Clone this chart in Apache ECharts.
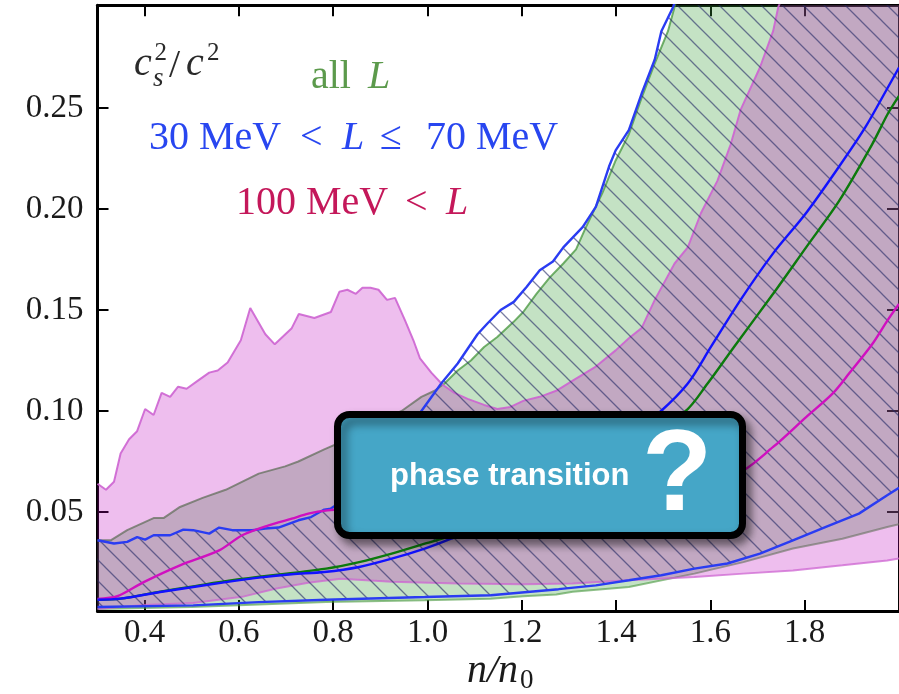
<!DOCTYPE html>
<html>
<head>
<meta charset="utf-8">
<script src="https://cdn.jsdelivr.net/npm/echarts@6.0.0/dist/echarts.min.js"></script>
<style>
  html, body { margin: 0; padding: 0; background: #fff; }
  #chart { width: 899px; height: 694px; }
</style>
</head>
<body>
<div id="chart"></div>
<script>
const xTicks = [0.4, 0.6, 0.8, 1.0, 1.2, 1.4, 1.6, 1.8];
const yTicks = [0.05, 0.10, 0.15, 0.20, 0.25];

// band edges as [n/n0, cs^2/c^2]
// 100 MeV < L
const pinkUpper = [
  [0.300, 0.064], [0.318, 0.061], [0.335, 0.065], [0.349, 0.079], [0.367, 0.086], [0.384, 0.090],
  [0.401, 0.101], [0.419, 0.098], [0.436, 0.109], [0.454, 0.107], [0.471, 0.112], [0.489, 0.111],
  [0.513, 0.115], [0.537, 0.119], [0.555, 0.120], [0.576, 0.124], [0.604, 0.135], [0.624, 0.151],
  [0.656, 0.138], [0.676, 0.133], [0.712, 0.141], [0.727, 0.148], [0.760, 0.146], [0.795, 0.149],
  [0.813, 0.159], [0.830, 0.160], [0.848, 0.158], [0.862, 0.161], [0.879, 0.161], [0.896, 0.160],
  [0.914, 0.155], [0.931, 0.156], [0.952, 0.145], [0.970, 0.135], [0.984, 0.126], [1.008, 0.119],
  [1.032, 0.113], [1.057, 0.109], [1.085, 0.106], [1.120, 0.103], [1.148, 0.101], [1.176, 0.102],
  [1.203, 0.105], [1.238, 0.107], [1.273, 0.110], [1.308, 0.115], [1.357, 0.122], [1.399, 0.130],
  [1.427, 0.136], [1.454, 0.141], [1.482, 0.155], [1.524, 0.173], [1.552, 0.181], [1.580, 0.198],
  [1.615, 0.214], [1.643, 0.232], [1.664, 0.249], [1.705, 0.270], [1.733, 0.288], [1.744, 0.300],
  [1.780, 0.320], [2.000, 0.450]
];
const pinkLower = [
  [0.300, 0.002], [0.398, 0.004], [0.503, 0.005], [0.607, 0.008], [0.677, 0.012], [0.747, 0.015],
  [0.816, 0.017], [0.924, 0.0155], [1.064, 0.0146], [1.203, 0.0142], [1.308, 0.0146], [1.427, 0.0162],
  [1.566, 0.0178], [1.670, 0.0195], [1.775, 0.0211], [1.880, 0.0236], [1.975, 0.026], [2.000, 0.027]
];
// all L
const greenUpper = [
  [0.300, 0.036], [0.328, 0.036], [0.363, 0.041], [0.419, 0.047], [0.440, 0.047], [0.475, 0.0525],
  [0.523, 0.057], [0.572, 0.061], [0.642, 0.069], [0.698, 0.0726], [0.726, 0.075], [0.781, 0.081],
  [0.850, 0.088], [0.900, 0.095], [0.945, 0.100], [0.987, 0.107], [1.015, 0.110], [1.036, 0.1136],
  [1.064, 0.120], [1.092, 0.125], [1.120, 0.1317], [1.148, 0.1366], [1.182, 0.144], [1.203, 0.149],
  [1.231, 0.158], [1.259, 0.166], [1.288, 0.173], [1.315, 0.180], [1.336, 0.191], [1.371, 0.208],
  [1.399, 0.224], [1.427, 0.237], [1.454, 0.255], [1.482, 0.272], [1.510, 0.288], [1.524, 0.300],
  [1.550, 0.320], [2.000, 0.600]
];
const greenLower = [
  [0.300, 0.002], [0.500, 0.003], [0.785, 0.0054], [0.994, 0.0063], [1.134, 0.0071], [1.203, 0.0083],
  [1.273, 0.0092], [1.308, 0.0105], [1.427, 0.0129], [1.566, 0.0195], [1.670, 0.0252], [1.775, 0.0319],
  [1.880, 0.0368], [1.975, 0.0426], [2.000, 0.044]
];
// 30 MeV < L <= 70 MeV
const blueUpper = [
  [0.300, 0.036], [0.335, 0.0344], [0.363, 0.0352], [0.384, 0.0376], [0.401, 0.0363], [0.419, 0.0385],
  [0.454, 0.0385], [0.482, 0.0413], [0.503, 0.041], [0.537, 0.0393], [0.558, 0.0423], [0.586, 0.041],
  [0.628, 0.041], [0.656, 0.0418], [0.684, 0.0423], [0.726, 0.0459], [0.753, 0.0475], [0.781, 0.0512],
  [0.795, 0.0517], [0.850, 0.060], [0.900, 0.072], [0.950, 0.088], [0.987, 0.100], [1.029, 0.1136],
  [1.064, 0.1235], [1.106, 0.138], [1.127, 0.1433], [1.155, 0.150], [1.183, 0.154], [1.210, 0.1614],
  [1.238, 0.1697], [1.266, 0.174], [1.288, 0.181], [1.329, 0.191], [1.357, 0.201], [1.385, 0.221],
  [1.399, 0.229], [1.427, 0.239], [1.454, 0.257], [1.482, 0.274], [1.496, 0.288], [1.521, 0.300],
  [1.550, 0.320], [2.000, 0.600]
];
const blueLower = [
  [0.300, 0.003], [0.503, 0.0038], [0.642, 0.0054], [0.785, 0.0066], [0.994, 0.0079], [1.134, 0.0088],
  [1.278, 0.0118], [1.357, 0.0137], [1.427, 0.0162], [1.496, 0.0187], [1.566, 0.022], [1.636, 0.0245],
  [1.705, 0.0294], [1.775, 0.036], [1.845, 0.0426], [1.915, 0.0492], [1.975, 0.0583], [2.000, 0.062]
];

// central curves
const pinkMid = [
  [0.300, 0.007], [0.342, 0.0083], [0.398, 0.0153], [0.475, 0.0236], [0.558, 0.031], [0.607, 0.0385],
  [0.663, 0.0434], [0.712, 0.0467], [0.747, 0.0492], [0.788, 0.0508], [0.900, 0.053], [1.000, 0.055],
  [1.200, 0.058], [1.400, 0.062], [1.550, 0.065], [1.657, 0.069], [1.733, 0.0822], [1.803, 0.097],
  [1.859, 0.1086], [1.894, 0.1185], [1.943, 0.133], [1.976, 0.145], [2.000, 0.153]
];
const greenMid = [
  [0.300, 0.0066], [0.349, 0.0071], [0.433, 0.0106], [0.503, 0.0132], [0.586, 0.0162], [0.785, 0.022],
  [0.855, 0.0252], [0.924, 0.0294], [0.994, 0.0343], [1.064, 0.0393], [1.150, 0.048], [1.250, 0.060],
  [1.350, 0.074], [1.450, 0.088], [1.545, 0.0995], [1.594, 0.1136], [1.650, 0.1317], [1.733, 0.158],
  [1.803, 0.181], [1.873, 0.204], [1.943, 0.232], [1.976, 0.247], [2.000, 0.256]
];
const blueMid = [
  [0.300, 0.0066], [0.349, 0.0071], [0.433, 0.0104], [0.503, 0.0129], [0.572, 0.0153], [0.642, 0.0175],
  [0.712, 0.0192], [0.781, 0.0203], [0.855, 0.0228], [0.924, 0.0269], [0.994, 0.0319], [1.050, 0.0368],
  [1.150, 0.047], [1.250, 0.060], [1.350, 0.075], [1.430, 0.088], [1.493, 0.0995], [1.552, 0.1136],
  [1.601, 0.1317], [1.664, 0.155], [1.733, 0.178], [1.803, 0.198], [1.873, 0.221], [1.929, 0.2406],
  [1.976, 0.260], [2.000, 0.270]
];

const serif = '"Liberation Serif", "Times New Roman", serif';
const sans = '"Liberation Sans", Arial, sans-serif';

// hatch tile for the 30-70 MeV band
const tile = document.createElement('canvas');
tile.width = 21;
tile.height = 21;
{
  const ctx = tile.getContext('2d');
  ctx.strokeStyle = 'rgba(40,45,105,0.62)';
  ctx.lineWidth = 1.3;
  ctx.beginPath();
  ctx.moveTo(-2, -2); ctx.lineTo(23, 23);
  ctx.moveTo(-2, 19); ctx.lineTo(2, 23);
  ctx.moveTo(19, -2); ctx.lineTo(23, 2);
  ctx.stroke();
}

const bandFill = (upper, lower, style, z) => ({
  type: 'custom',
  z: z,
  clip: true,
  silent: true,
  data: [[1, 0.1]],
  renderItem: (params, api) => {
    const points = upper.concat(lower.slice().reverse()).map(p => api.coord(p));
    return {
      type: 'polygon',
      shape: {points: points},
      style: style,
    };
  },
});

const edge = (data, color, width, z, smooth) => ({
  type: 'line',
  data: data,
  z: z,
  smooth: smooth || false,
  showSymbol: false,
  silent: true,
  lineStyle: {color: color, width: width},
});

const mathText = (x, y, text, size, color, italic) => ({
  type: 'text',
  x: x,
  y: y,
  z: 50,
  style: {
    text: text,
    fill: color,
    font: (italic ? 'italic ' : '') + size + 'px ' + serif,
    textAlign: 'left',
    textVerticalAlign: 'middle',
  },
});

let chart = echarts.init(document.getElementById('chart'));

chart.setOption({
  animation: false,
  grid: {left: 97.5, top: 5.3, right: -11, bottom: 83, containLabel: false},
  xAxis: [
    {
      type: 'value', min: 0.3, max: 2.0, position: 'bottom',
      axisLine: {show: true, lineStyle: {color: '#000', width: 3}},
      axisTick: {show: true, inside: true, length: 11, customValues: xTicks, lineStyle: {color: '#000', width: 2}},
      axisLabel: {
        customValues: xTicks, margin: 6, fontFamily: serif, fontSize: 33, color: '#1a1a1a',
        formatter: v => v.toFixed(1),
      },
      splitLine: {show: false},
    },
    {
      type: 'value', min: 0.3, max: 2.0, position: 'top',
      axisLine: {show: true, lineStyle: {color: '#000', width: 3}},
      axisTick: {show: true, inside: true, length: 11, customValues: xTicks, lineStyle: {color: '#000', width: 2}},
      axisLabel: {show: false},
      splitLine: {show: false},
    },
  ],
  yAxis: [
    {
      type: 'value', min: 0.001, max: 0.3008, position: 'left',
      axisLine: {show: true, lineStyle: {color: '#000', width: 3}},
      axisTick: {show: true, inside: true, length: 11, customValues: yTicks, lineStyle: {color: '#000', width: 2}},
      axisLabel: {
        customValues: yTicks, margin: 14, fontFamily: serif, fontSize: 33, color: '#1a1a1a',
        formatter: v => v.toFixed(2),
      },
      splitLine: {show: false},
    },
    {
      type: 'value', min: 0.001, max: 0.3008, position: 'right',
      axisLine: {show: true, lineStyle: {color: '#000', width: 3}},
      axisTick: {show: true, inside: true, length: 12, customValues: yTicks, lineStyle: {color: '#000', width: 2}},
      axisLabel: {show: false},
      splitLine: {show: false},
    },
  ],
  series: [
    bandFill(greenUpper, greenLower, {fill: 'rgba(58,158,58,0.3)'}, 1),
    edge(greenUpper, 'rgba(70,150,60,0.75)', 2, 2),
    edge(greenLower, 'rgba(70,150,60,0.6)', 2, 2),
    bandFill(pinkUpper, pinkLower, {fill: 'rgba(190,5,190,0.26)'}, 3),
    edge(pinkUpper, 'rgba(205,100,210,0.9)', 2, 4),
    edge(pinkLower, 'rgba(205,100,210,0.75)', 2, 4),
    bandFill(blueUpper, blueLower, {fill: {image: tile, repeat: 'repeat'}}, 5),
    edge(blueUpper, '#2a3cf2', 2.4, 6),
    edge(blueLower, '#2a3cf2', 2.4, 6),
    edge(greenMid, '#0c7a0c', 2.4, 7, 0.3),
    edge(pinkMid, '#d010c0', 2.4, 7, 0.3),
    edge(blueMid, '#1212ff', 2.4, 8, 0.3),
  ],
  graphic: [
    // c_s^2 / c^2
    mathText(134, 64.5, 'c', 40, '#2a2a2a', true),
    mathText(154.5, 53.5, '2', 25, '#2a2a2a', false),
    mathText(153, 79, 's', 27, '#2a2a2a', true),
    mathText(169, 66.5, '/', 40, '#2a2a2a', false),
    mathText(186, 64.5, 'c', 40, '#2a2a2a', true),
    mathText(207, 53.5, '2', 25, '#2a2a2a', false),
    // legend-like labels
    mathText(311, 77.2, 'all', 40, '#5c9a4c', false),
    mathText(368, 77.2, 'L', 40, '#5c9a4c', true),
    mathText(149, 138.2, '30 MeV', 40, '#2846f0', false),
    mathText(300, 138.2, '<', 40, '#2846f0', false),
    mathText(342, 138.2, 'L', 40, '#2846f0', true),
    mathText(380, 138.2, '\u2264', 40, '#2846f0', false),
    mathText(426, 138.2, '70 MeV', 40, '#2846f0', false),
    mathText(236, 203.2, '100 MeV', 40, '#c4185a', false),
    mathText(405, 203.2, '<', 40, '#c4185a', false),
    mathText(446, 203.2, 'L', 40, '#c4185a', true),
    // x axis title n/n0
    mathText(467, 671.5, 'n/n', 40, '#1a1a1a', true),
    mathText(520, 681, '0', 27, '#1a1a1a', false),
    // annotation box
    {
      type: 'rect',
      z: 100,
      shape: {x: 337.5, y: 414.5, width: 405, height: 121, r: 12},
      style: {
        fill: '#45a6c7', stroke: '#000', lineWidth: 7,
        shadowBlur: 10, shadowOffsetX: 5, shadowOffsetY: 6, shadowColor: 'rgba(0,0,0,0.45)',
      },
    },
    {
      type: 'text',
      z: 101,
      x: 390,
      y: 476.5,
      style: {
        text: 'phase transition', fill: '#fff', font: 'bold 31px ' + sans,
        textAlign: 'left', textVerticalAlign: 'middle',
      },
    },
    {
      type: 'text',
      z: 101,
      x: 677,
      y: 478,
      style: {
        text: '?', fill: '#fff', font: 'bold 115px ' + sans,
        textAlign: 'center', textVerticalAlign: 'middle',
      },
    },
  ],
});
</script>
</body>
</html>
